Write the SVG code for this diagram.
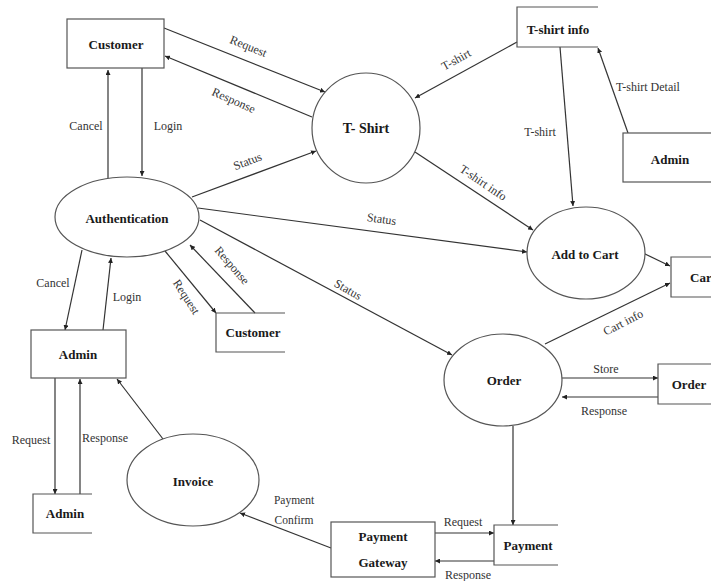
<svg xmlns="http://www.w3.org/2000/svg" width="711" height="581" viewBox="0 0 711 581">
<style>
.box{fill:#fff;stroke:#555;stroke-width:1.2}
.open{fill:none;stroke:#555;stroke-width:1.2}
.proc{fill:#fff;stroke:#555;stroke-width:1.2}
.flow{fill:none;stroke:#333;stroke-width:1.2;marker-end:url(#ah)}
.nt{font-family:"Liberation Serif","Times New Roman",serif;font-weight:bold;font-size:13px;fill:#1a1a1a;text-anchor:middle}
.lb{font-family:"Liberation Serif","Times New Roman",serif;font-size:12px;fill:#333;text-anchor:middle}
</style>
<defs>
<marker id="ah" markerWidth="5" markerHeight="5" refX="5" refY="2.5" orient="auto" markerUnits="userSpaceOnUse">
<path d="M0,0 L5,2.5 L0,5 z" fill="#222"/>
</marker>
</defs>
<rect width="711" height="581" fill="#fff"/>

<g id="connectors">
<path class="flow" d="M164,28 L325,92"/>
<path class="flow" d="M312,117 L165,56"/>
<path class="flow" d="M108,178 L108,70"/>
<path class="flow" d="M142,68 L142,176"/>
<path class="flow" d="M192,197 L316,151"/>
<path class="flow" d="M517,42 L415,98"/>
<path class="flow" d="M628,133 L598,48"/>
<path class="flow" d="M560,47 L573,206"/>
<path class="flow" d="M415,152 L533,230"/>
<path class="flow" d="M198,208 L527,252"/>
<path class="flow" d="M200,220 L452,355"/>
<path class="flow" d="M643,253 L670,266"/>
<path class="flow" d="M545,344 L670,283"/>
<path class="flow" d="M562,378 L658,378"/>
<path class="flow" d="M658,397 L562,397"/>
<path class="flow" d="M513,426 L513,525"/>
<path class="flow" d="M435,533 L494,533"/>
<path class="flow" d="M494,561 L435,561"/>
<path class="flow" d="M331,548 L240,513"/>
<path class="flow" d="M163,439 L117,379"/>
<path class="flow" d="M55,378 L55,494"/>
<path class="flow" d="M80,494 L80,379"/>
<path class="flow" d="M82,250 L65,330"/>
<path class="flow" d="M103,330 L111,258"/>
<path class="flow" d="M165,251 L216,313"/>
<path class="flow" d="M255,313 L190,245"/>

<text class="lb" transform="translate(247,50) rotate(22)">Request</text>
<text class="lb" transform="translate(232,104) rotate(24)">Response</text>
<text class="lb" x="86" y="130">Cancel</text>
<text class="lb" x="168" y="130">Login</text>
<text class="lb" transform="translate(249,165) rotate(-21)">Status</text>
<text class="lb" transform="translate(458,63) rotate(-29)">T-shirt</text>
<text class="lb" x="648" y="91">T-shirt Detail</text>
<text class="lb" x="540" y="136">T-shirt</text>
<text class="lb" transform="translate(481,186) rotate(34)">T-shirt info</text>
<text class="lb" transform="translate(381,223) rotate(8)">Status</text>
<text class="lb" transform="translate(346,293) rotate(30)">Status</text>
<text class="lb" transform="translate(625,326) rotate(-27)">Cart info</text>
<text class="lb" x="606" y="373">Store</text>
<text class="lb" x="604" y="415">Response</text>
<text class="lb" x="463" y="526">Request</text>
<text class="lb" x="468" y="579">Response</text>
<text class="lb" x="294" y="504" style="font-size:11.5px">Payment</text>
<text class="lb" x="294" y="524" style="font-size:11.5px">Confirm</text>
<text class="lb" x="31" y="444">Request</text>
<text class="lb" x="105" y="442">Response</text>
<text class="lb" x="53" y="287">Cancel</text>
<text class="lb" x="127" y="301">Login</text>
<text class="lb" transform="translate(183,299) rotate(57)">Request</text>
<text class="lb" transform="translate(229,268) rotate(49)">Response</text>
</g>

<g id="customer-top">
<rect class="box" x="67" y="19" width="97" height="49"/>
<text class="nt" x="116" y="49">Customer</text>
</g>
<g id="tshirt">
<ellipse class="proc" cx="366" cy="128" rx="54" ry="55"/>
<text class="nt" x="366" y="133" style="font-size:14px">T- Shirt</text>
</g>
<g id="tshirt-info">
<path class="open" d="M598,7 H517 V47 H598"/>
<text class="nt" x="558" y="34">T-shirt info</text>
</g>
<g id="admin-top">
<rect class="box" x="623" y="133" width="100" height="49"/>
<text class="nt" x="670" y="164">Admin</text>
</g>
<g id="authentication">
<ellipse class="proc" cx="127" cy="217" rx="72" ry="40"/>
<text class="nt" x="127" y="223">Authentication</text>
</g>
<g id="add-to-cart">
<ellipse class="proc" cx="586" cy="253" rx="59" ry="46"/>
<text class="nt" x="585" y="259">Add to Cart</text>
</g>
<g id="cart">
<path class="open" d="M711,257 H671 V297 H711"/>
<text class="nt" x="690" y="282" style="text-anchor:start">Car</text>
</g>
<g id="customer-mid">
<path class="open" d="M285,313 H216 V352 H285"/>
<text class="nt" x="253" y="337">Customer</text>
</g>
<g id="admin-mid">
<rect class="box" x="31" y="330" width="95" height="48"/>
<text class="nt" x="78" y="359">Admin</text>
</g>
<g id="order">
<ellipse class="proc" cx="503" cy="380" rx="59" ry="46"/>
<text class="nt" x="504" y="385">Order</text>
</g>
<g id="order-store">
<path class="open" d="M711,364 H658 V404 H711"/>
<text class="nt" x="689" y="389">Order</text>
</g>
<g id="admin-bottom">
<path class="open" d="M92,494 H33 V533 H92"/>
<text class="nt" x="65" y="518">Admin</text>
</g>
<g id="invoice">
<ellipse class="proc" cx="193" cy="480" rx="66" ry="46"/>
<text class="nt" x="193" y="486">Invoice</text>
</g>
<g id="payment-gateway">
<rect class="box" x="331" y="522" width="104" height="55"/>
<text class="nt" x="383" y="541">Payment</text>
<text class="nt" x="383" y="567">Gateway</text>
</g>
<g id="payment">
<path class="open" d="M558,525 H494 V565 H558"/>
<text class="nt" x="528" y="550">Payment</text>
</g>
</svg>
